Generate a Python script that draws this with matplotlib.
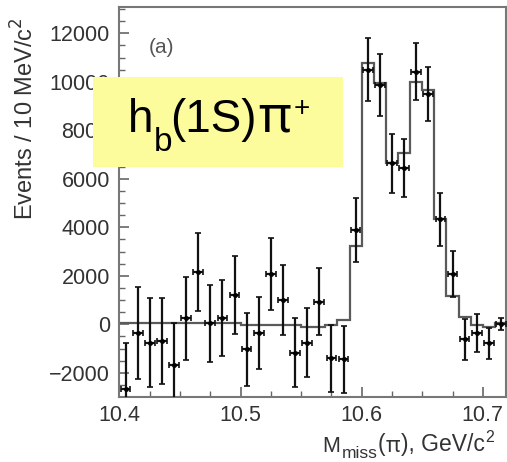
import numpy as np
import matplotlib
matplotlib.use("Agg")
import matplotlib.pyplot as plt
from matplotlib.patches import Rectangle
from matplotlib.ticker import MultipleLocator

plt.rcParams['font.family'] = ['Liberation Sans', 'DejaVu Sans']

# ---- data ----
bin_centers = [10.405, 10.415, 10.425, 10.435, 10.445, 10.455, 10.465, 10.475,
               10.485, 10.495, 10.505, 10.515, 10.525, 10.535, 10.545, 10.555,
               10.565, 10.575, 10.585, 10.595, 10.605, 10.615, 10.625, 10.635,
               10.645, 10.655, 10.665, 10.675, 10.685, 10.695, 10.705, 10.715]
counts = [-2680, -345, -757, -675, -1680, 245, 2170, 40, 245, 1210, -1030, -345,
          2075, 1000, -1170, -757, 935, -1400, -1445, 3890, 10490, 9870, 6640,
          6460, 10420, 9500, 4330, 2075, -620, -345, -785, 0]
errors = [1900, 1900, 1830, 1775, 1750, 1720, 1600, 1580, 1570, 1600, 1500, 1480,
          1490, 1440, 1430, 1410, 1380, 1370, 1370, 1310, 1300, 1270, 1220, 1200,
          1170, 1120, 1080, 950, 860, 780, 630, 250]
fit = [40, 40, 40, 40, 40, 40, 40, 40, 40, 40, -30, -30, -30, -30, -30, -100,
       -100, -30, 180, 3240, 10760, 9940, 6640, 7080, 10000, 9660, 4330, 1170,
       290, -30, -100, 40]
bin_width = 0.01
xticks = [10.4, 10.5, 10.6, 10.7]
xticklabels = ['10.4', '10.5', '10.6', '10.7']
yticks = [-2000, 0, 2000, 4000, 6000, 8000, 10000, 12000]

W, H = 507, 462
fig = plt.figure(figsize=(W / 100, H / 100), dpi=100)
ax = fig.add_axes([0.2357, 0.1413, 0.7617, 0.8428])

centers = np.array(bin_centers)
edges = np.append(centers - bin_width / 2, centers[-1] + bin_width / 2)

# fit histogram
ax.stairs(fit, edges, color='#5a5a5a', lw=1.6, zorder=2, baseline=None)
# data points
ax.errorbar(centers, counts, yerr=errors, xerr=0.004, fmt='o', ms=2.5,
            color='black', ecolor='#111111', elinewidth=1.6, capsize=2.5,
            capthick=1.2, zorder=3)

ax.set_xlim(10.4023, 10.7189)
ax.set_ylim(-2985, 13070)
ax.set_xticks(xticks)
ax.set_xticklabels(xticklabels)
ax.xaxis.set_minor_locator(MultipleLocator(0.025))
ax.set_yticks(yticks)
ax.yaxis.set_minor_locator(MultipleLocator(500))

for s in ax.spines.values():
    s.set_color('#777777')
    s.set_linewidth(1.5)
ax.tick_params(which='both', direction='in', top=False, right=False,
               color='#666666', labelcolor='#333333', labelsize=15.5)
ax.tick_params(which='major', length=7, width=1.2)
ax.tick_params(which='minor', length=4, width=1.0)
ax.tick_params(axis='y', pad=7)
ax.tick_params(axis='x', pad=6)

ax.set_ylabel('Events / 10 MeV/c$^2$', fontsize=17, color='#333333')
ax.yaxis.label.set_va('center')
ax.yaxis.set_label_coords(-0.245, 0.714)

ax.text(0.109, 0.897, '(a)', transform=ax.transAxes, fontsize=15,
        color='#555555', ha='center', va='center')

renderer = fig.canvas.get_renderer()


def pieces(items, color):
    # items: (text, left_px or None to follow previous, baseline_px, fontsize, family, gap)
    x_next = None
    for s, x, y, size, fam, gap in items:
        x = x if x is not None else x_next + gap
        t = fig.text(x / W, 1 - y / H, s, fontsize=size, color=color,
                     family=fam, ha='left', va='baseline', zorder=11)
        x_next = t.get_window_extent(renderer).x1


LS = ['Liberation Sans', 'DejaVu Sans']
PI = ['Noto Sans', 'DejaVu Sans']

# x-axis label, built from pieces so that sub/superscripts sit as in the reference
pieces([('M', 322.0, 451.5, 15.5, LS, 0),
        ('miss', 341.5, 458.5, 12.5, LS, 0),
        ('(', None, 451.5, 16.5, LS, 0.5),
        ('π', None, 451.5, 16, PI, 0.5),
        ('), GeV/c', None, 451.5, 16.5, LS, 0.5),
        ('2', None, 441.5, 11.5, LS, 1)], '#333333')

# yellow label box (drawn over the axes)
fig.patches.append(Rectangle((0.184, 0.6392), 0.492, 0.1935,
                             transform=fig.transFigure, facecolor='#fdfc9c',
                             edgecolor='none', zorder=10))
pieces([('h', 127.5, 131.7, 33, LS, 0),
        ('b', 154.0, 151.0, 24, LS, 0),
        ('(1S)', 170.5, 131.7, 33, LS, 0),
        ('π', 258.0, 131.7, 36, PI, 0),
        ('+', None, 115.5, 20, LS, 3)], 'black')

fig.savefig('out.png', dpi=100)
